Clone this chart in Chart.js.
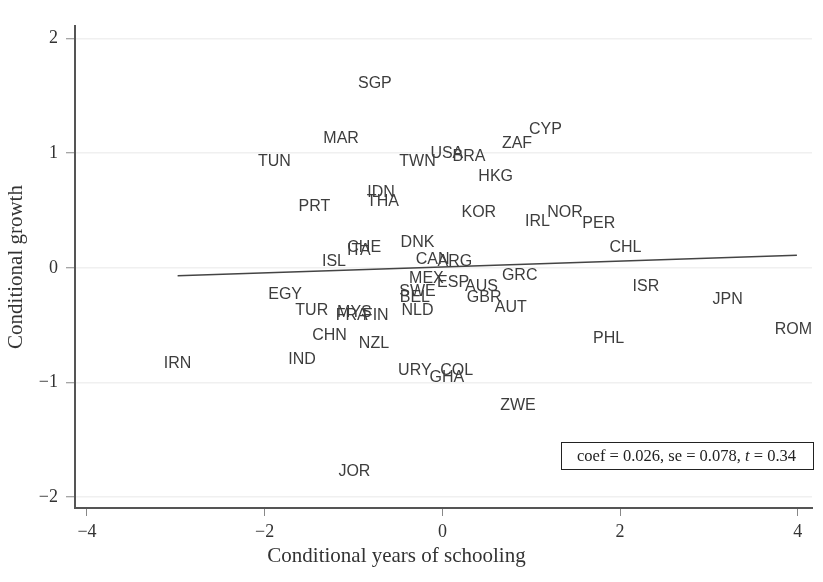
<!DOCTYPE html>
<html>
<head>
<meta charset="utf-8">
<script src="https://cdn.jsdelivr.net/npm/chart.js@4"></script>
<style>
  html, body { margin: 0; padding: 0; background: #fff; }
  #wrap { width: 823px; height: 582px; }
</style>
</head>
<body>
<div id="wrap"><canvas id="growthChart" width="823" height="582"></canvas></div>
<script>
// country codes and their positions
const countries = ["SGP","MAR","TUN","TWN","USA","BRA","ZAF","CYP","HKG","IDN","THA","PRT","KOR","IRL","NOR","PER","CHL",
  "DNK","CHE","ITA","ISL","CAN","ARG","MEX","ESP","AUS","GRC","SWE","BEL","GBR","AUT","NLD","FIN","FRA","MYS","TUR","EGY",
  "CHN","NZL","IND","IRN","URY","COL","GHA","ZWE","ISR","JPN","ROM","PHL","JOR"];
const schooling = [-0.76,-1.14,-1.89,-0.28,0.05,0.30,0.84,1.16,0.60,-0.69,-0.67,-1.44,0.41,1.07,1.38,1.76,2.06,
  -0.28,-0.88,-0.94,-1.22,-0.11,0.14,-0.18,0.12,0.44,0.87,-0.28,-0.31,0.47,0.77,-0.28,-0.75,-1.02,-0.99,-1.47,-1.77,
  -1.27,-0.77,-1.58,-2.98,-0.31,0.16,0.05,0.85,2.29,3.21,3.95,1.87,-0.99];
const growth = [1.61,1.13,0.93,0.93,1.00,0.97,1.08,1.21,0.80,0.66,0.58,0.53,0.48,0.40,0.48,0.39,0.18,
  0.22,0.18,0.15,0.05,0.07,0.05,-0.09,-0.13,-0.16,-0.07,-0.21,-0.26,-0.26,-0.35,-0.37,-0.42,-0.42,-0.39,-0.37,-0.23,
  -0.59,-0.66,-0.80,-0.84,-0.90,-0.90,-0.96,-1.20,-0.16,-0.28,-0.54,-0.62,-1.78];

// fitted line ends
const fitX = [-2.98, 3.99];
const fitY = [-0.07, 0.11];

const xTicks = [-4, -2, 0, 2, 4];
const yTicks = [-2, -1, 0, 1, 2];

const serif = "'Liberation Serif', 'DejaVu Serif', serif";
const axisColor = "#555";
const tickMarkColor = "#888";

function fmt(v) {
  return v < 0 ? "\u2212" + Math.abs(v) : String(v);
}

// country labels drawn in place of markers
const labelPlugin = {
  id: "countryLabels",
  afterDatasetsDraw(chart) {
    const ctx = chart.ctx;
    const meta = chart.getDatasetMeta(0);
    ctx.save();
    ctx.font = "16px 'Liberation Sans', Arial, sans-serif";
    ctx.fillStyle = "#3d3d3d";
    ctx.textAlign = "center";
    ctx.textBaseline = "middle";
    meta.data.forEach((pt, i) => {
      ctx.fillText(countries[i], pt.x, pt.y);
    });
    ctx.restore();
  }
};

// x title sits a bit left of the plot centre, like the original
const xTitlePlugin = {
  id: "xTitle",
  afterDraw(chart) {
    const ctx = chart.ctx;
    ctx.save();
    ctx.font = "21px " + serif;
    ctx.fillStyle = "#333";
    ctx.textAlign = "center";
    ctx.textBaseline = "middle";
    ctx.fillText("Conditional years of schooling", chart.width / 2 - 15, chart.chartArea.bottom + 48);
    ctx.restore();
  }
};

// coef box in the lower right corner
const statsPlugin = {
  id: "statsBox",
  afterDraw(chart) {
    const ctx = chart.ctx;
    const area = chart.chartArea;
    const w = 252, h = 27;
    const x0 = area.right + 1 - w;
    const y0 = area.bottom - 66;
    ctx.save();
    ctx.fillStyle = "#fff";
    ctx.fillRect(x0, y0, w, h);
    ctx.strokeStyle = "#222";
    ctx.lineWidth = 1;
    ctx.strokeRect(x0 + 0.5, y0 + 0.5, w, h);
    ctx.fillStyle = "#222";
    ctx.textBaseline = "middle";
    ctx.textAlign = "left";
    const parts = [
      ["coef = 0.026, se = 0.078, ", "16.5px " + serif],
      ["t", "italic 16.5px " + serif],
      [" = 0.34", "16.5px " + serif]
    ];
    let tx = x0 + 16;
    parts.forEach(([s, f]) => {
      ctx.font = f;
      ctx.fillText(s, tx, y0 + h / 2 + 1);
      tx += ctx.measureText(s).width;
    });
    ctx.restore();
  }
};

const ctx = document.getElementById("growthChart").getContext("2d");
new Chart(ctx, {
  data: {
    datasets: [
      {
        type: "scatter",
        data: schooling.map((x, i) => ({ x: x, y: growth[i] })),
        pointRadius: 0,
        pointHoverRadius: 0
      },
      {
        type: "line",
        data: fitX.map((x, i) => ({ x: x, y: fitY[i] })),
        borderColor: "#444",
        borderWidth: 1.5,
        pointRadius: 0,
        fill: false
      }
    ]
  },
  options: {
    responsive: false,
    animation: false,
    layout: { padding: { left: 0, right: 11, top: 26, bottom: 0 } },
    plugins: { legend: { display: false }, tooltip: { enabled: false } },
    scales: {
      x: {
        type: "linear",
        min: -4.135,
        max: 4.16,
        afterBuildTicks: (s) => { s.ticks = xTicks.map(v => ({ value: v })); },
        afterFit: (s) => { s.height = 74; },
        border: { color: axisColor, width: 2 },
        grid: { drawOnChartArea: false, tickColor: tickMarkColor, tickLength: 8, tickWidth: 1 },
        ticks: {
          color: "#333",
          padding: 5,
          font: { family: serif, size: 18 },
          callback: (v) => fmt(v)
        }
      },
      y: {
        type: "linear",
        min: -2.096,
        max: 2.11,
        afterBuildTicks: (s) => { s.ticks = yTicks.map(v => ({ value: v })); },
        afterFit: (s) => { s.width = 75; },
        border: { color: axisColor, width: 2 },
        grid: { color: "#f0f0f0", lineWidth: 1.5, tickColor: tickMarkColor, tickLength: 9, tickWidth: 1 },
        ticks: {
          color: "#333",
          padding: 8,
          font: { family: serif, size: 18 },
          callback: (v) => fmt(v)
        },
        title: {
          display: true,
          text: "Conditional growth",
          color: "#333",
          font: { family: serif, size: 21 },
          padding: { top: 4, bottom: 0 }
        }
      }
    }
  },
  plugins: [labelPlugin, xTitlePlugin, statsPlugin]
});
</script>
</body>
</html>
